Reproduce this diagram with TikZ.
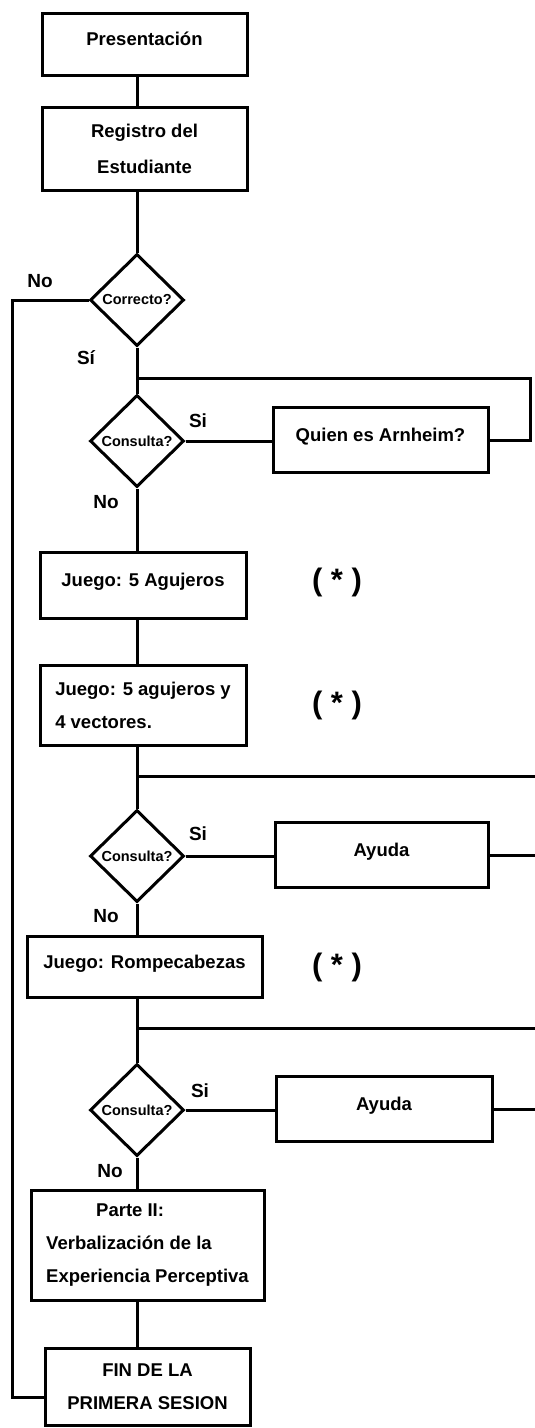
\documentclass[tikz,border=0pt]{standalone}
\usepackage{fontspec}
\setmainfont{Liberation Sans}
\usetikzlibrary{shapes.geometric}
\tikzset{
    box/.style={draw, line width=3pt, inner sep=0pt, font=\bfseries\fontsize{18.5}{33}\selectfont},
    lift/.style={text height=14pt, text depth=11pt},
    query/.style={draw, diamond, line width=3pt, inner sep=0pt, minimum width=94pt,
        minimum height=92pt, font=\bfseries\fontsize{14.5}{16}\selectfont},
    tag/.style={font=\bfseries\fontsize{19}{24}\selectfont},
    star/.style={font=\bfseries\fontsize{31}{33}\selectfont},
    link/.style={line width=3pt}
}
\begin{document}
\begin{tikzpicture}[x=1pt,y=-1pt]
    \useasboundingbox (0,0) rectangle (535,1428);
    % steps
    \node[box, lift, minimum width=205pt, minimum height=62pt] (pres) at (144.5,44) {Presentación};
    \node[box, minimum width=205pt, minimum height=83pt, align=center,
        font=\bfseries\fontsize{18.5}{36}\selectfont] (reg) at (144.5,148.5) {Registro del\\Estudiante};
    \node[query] (d1) at (137,300) {\makebox[0pt]{Correcto?}};
    \node[query] (d2) at (137,441) {\makebox[0pt]{Consulta?}};
    \node[box, lift, minimum width=215pt, minimum height=65pt] (quien) at (380.5,440) {Quien es Arnheim?};
    \node[box, lift, minimum width=206pt, minimum height=66pt] (g1) at (143,585) {Juego: 5 Agujeros};
    \node[box, minimum width=206pt, minimum height=80pt, align=left] (g2) at (143,705)
        {Juego: 5 agujeros y\\4 vectores.};
    \node[query] (d3) at (137,856) {\makebox[0pt]{Consulta?}};
    \node[box, lift, minimum width=213pt, minimum height=65pt] (ay1) at (381.5,855) {Ayuda};
    \node[box, lift, minimum width=235pt, minimum height=61pt] (g3) at (144.5,967) {Juego: Rompecabezas};
    \node[query] (d4) at (137,1110) {\makebox[0pt]{Consulta?}};
    \node[box, lift, minimum width=216pt, minimum height=65pt] (ay2) at (384,1109) {Ayuda};
    \node[box, minimum width=233pt, minimum height=110pt, align=left] (parte) at (147.5,1245)
        {\hspace*{50pt}Parte II:\\Verbalización de la\\Experiencia Perceptiva};
    \node[box, minimum width=205pt, minimum height=77pt, align=center] (fin) at (147.5,1387)
        {FIN DE LA\\PRIMERA SESION};
    % labels
    \node[tag] (no1) at (40,281) {No};
    \node[tag] (si1) at (86,358) {Sí};
    \node[tag] (si2) at (198,421) {Si};
    \node[tag] (no2) at (106,502) {No};
    \node[tag] (si3) at (198,834) {Si};
    \node[tag] (no3) at (106,916) {No};
    \node[tag] (si4) at (200,1091) {Si};
    \node[tag] (no4) at (110,1171) {No};
    \node[star] (st1) at (337,582) {( * )};
    \node[star] (st2) at (337,705) {( * )};
    \node[star] (st3) at (337,967) {( * )};
    % junctions
    \coordinate (j1) at (137,378);
    \coordinate (r1) at (530,378);
    \coordinate (j2) at (137,776);
    \coordinate (e2) at (535,776);
    \coordinate (j3) at (137,1028);
    \coordinate (e3) at (535,1028);
    \coordinate (lt) at (12,300);
    \coordinate (lb) at (12,1397);
    % main column
    \draw[link] (pres.south -| d1.north) -- (reg.north -| d1.north);
    \draw[link] (reg.south -| d1.north) -- (d1.north);
    \draw[link] (d1.south) -- (d2.north);
    \draw[link] (d2.south) -- (g1.north -| d2.south);
    \draw[link] (g1.south -| d2.south) -- (g2.north -| d2.south);
    \draw[link] (g2.south -| d3.north) -- (d3.north);
    \draw[link] (d3.south) -- (g3.north -| d3.south);
    \draw[link] (g3.south -| d4.north) -- (d4.north);
    \draw[link] (d4.south) -- (parte.north -| d4.south);
    \draw[link] (parte.south -| d4.south) -- (fin.north -| d4.south);
    % branches
    \draw[link] (d1.west) -- (lt) -- (lb) -- (lb -| fin.west);
    \draw[link] (d2.east) -- (quien.west |- d2.east);
    \draw[link] (quien.east) -| (r1) -- (j1);
    \draw[link] (d3.east) -- (ay1.west |- d3.east);
    \draw[link] (j2) -- (e2);
    \draw[link] (ay1.east) -- (ay1.east -| e2);
    \draw[link] (d4.east) -- (ay2.west |- d4.east);
    \draw[link] (j3) -- (e3);
    \draw[link] (ay2.east) -- (ay2.east -| e3);
\end{tikzpicture}
\end{document}
